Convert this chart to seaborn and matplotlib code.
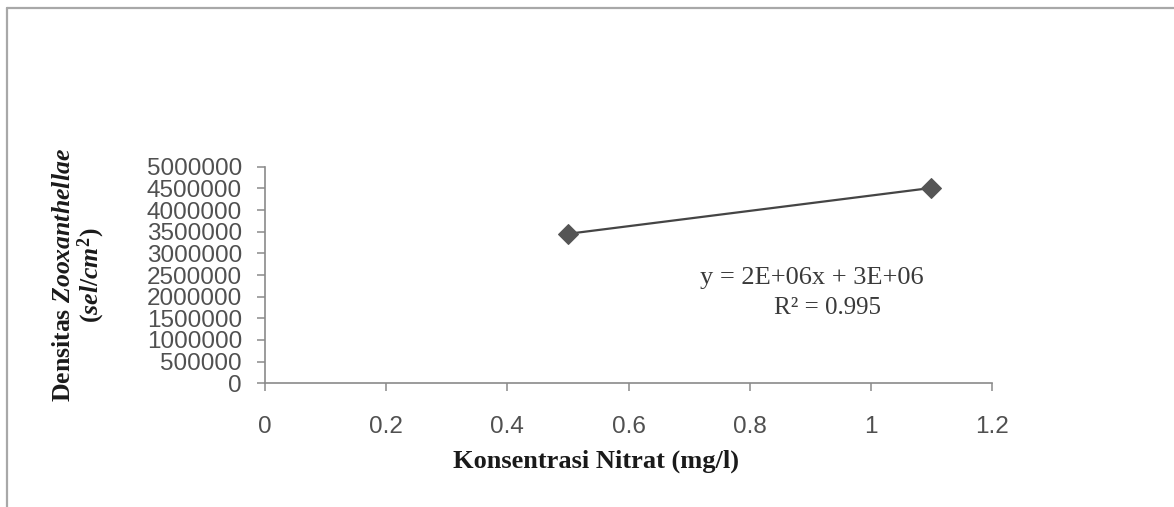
import matplotlib
matplotlib.use("Agg")
import matplotlib.pyplot as plt
from matplotlib.lines import Line2D
import seaborn as sns
import pandas as pd

# ---- data ----
nitrate = [0.5, 1.1]
density = [3450000, 4510000]
x_ticks = [0, 0.2, 0.4, 0.6, 0.8, 1.0, 1.2]
x_tick_labels = ["0", "0.2", "0.4", "0.6", "0.8", "1", "1.2"]
y_ticks = [0, 500000, 1000000, 1500000, 2000000, 2500000,
           3000000, 3500000, 4000000, 4500000, 5000000]
y_tick_labels = [str(v) for v in y_ticks]
equation_text = "y = 2E+06x + 3E+06"
r2_text = "R\u00b2 = 0.995"

sns.set_theme(style="white")
plt.rcParams["font.family"] = ["Liberation Sans", "DejaVu Sans"]
plt.rcParams["mathtext.fontset"] = "custom"
plt.rcParams["mathtext.rm"] = "Liberation Serif:bold"
plt.rcParams["mathtext.it"] = "Liberation Serif:italic:bold"
plt.rcParams["mathtext.bf"] = "Liberation Serif:bold"

df = pd.DataFrame({"x": nitrate, "y": density})

fig = plt.figure(figsize=(11.74, 5.07), dpi=100)
fig.patch.set_facecolor("white")
ax = fig.add_axes([265 / 1174, 1 - 383.3 / 507, (992 - 265) / 1174, (383.3 - 166.7) / 507])

sns.lineplot(data=df, x="x", y="y", ax=ax, color="#454545", linewidth=1.6,
             marker="D", markersize=10.5, markeredgecolor="#555555",
             markerfacecolor="#555555")

ax.set_xlim(0, 1.2)
ax.set_ylim(0, 5000000)
ax.set_xticks(x_ticks)
ax.set_xticklabels(x_tick_labels)
ax.set_yticks(y_ticks)
ax.set_yticklabels(y_tick_labels)

spine_col = "#8a8a8a"
for s in ["top", "right"]:
    ax.spines[s].set_visible(False)
for s in ["left", "bottom"]:
    ax.spines[s].set_color(spine_col)
    ax.spines[s].set_linewidth(1.2)

ax.tick_params(axis="y", which="major", direction="out", length=5.5, width=1.1,
               color=spine_col, pad=11, labelsize=17.5, labelcolor="#505050", left=True)
ax.tick_params(axis="x", which="major", direction="out", length=5.5, width=1.1,
               color=spine_col, pad=18, labelsize=17.5, labelcolor="#505050", bottom=True)

ax.set_xlabel("Konsentrasi Nitrat (mg/l)", family="Liberation Serif",
              fontweight="bold", fontsize=19, color="#1a1a1a")
ax.xaxis.set_label_coords((596 - 265) / 727, (383.3 - 450) / 216.7)

ax.set_ylabel("Densitas $\\mathit{Zooxanthellae}$\n$\\mathit{(sel/cm^2)}$",
              family="Liberation Serif", fontweight="bold", fontsize=18.5,
              color="#1a1a1a", linespacing=1.05)
ax.yaxis.set_label_coords((107 - 265) / 727, 0.5)

ax.text(0.903, 2430000, equation_text, family="Liberation Serif", fontsize=19,
        color="#3a3a3a", ha="center", va="center")
ax.text(0.928, 1740000, r2_text, family="Liberation Serif", fontsize=18,
        color="#3a3a3a", ha="center", va="center")

# outer frame (top and left edges visible)
fig.add_artist(Line2D([7 / 1174, 1.0], [1 - 8 / 507, 1 - 8 / 507],
                      transform=fig.transFigure, color="#a8a8a8", linewidth=1.6))
fig.add_artist(Line2D([7 / 1174, 7 / 1174], [0.0, 1 - 8 / 507],
                      transform=fig.transFigure, color="#a8a8a8", linewidth=1.6))

fig.savefig("out.png", dpi=100, facecolor="white")
